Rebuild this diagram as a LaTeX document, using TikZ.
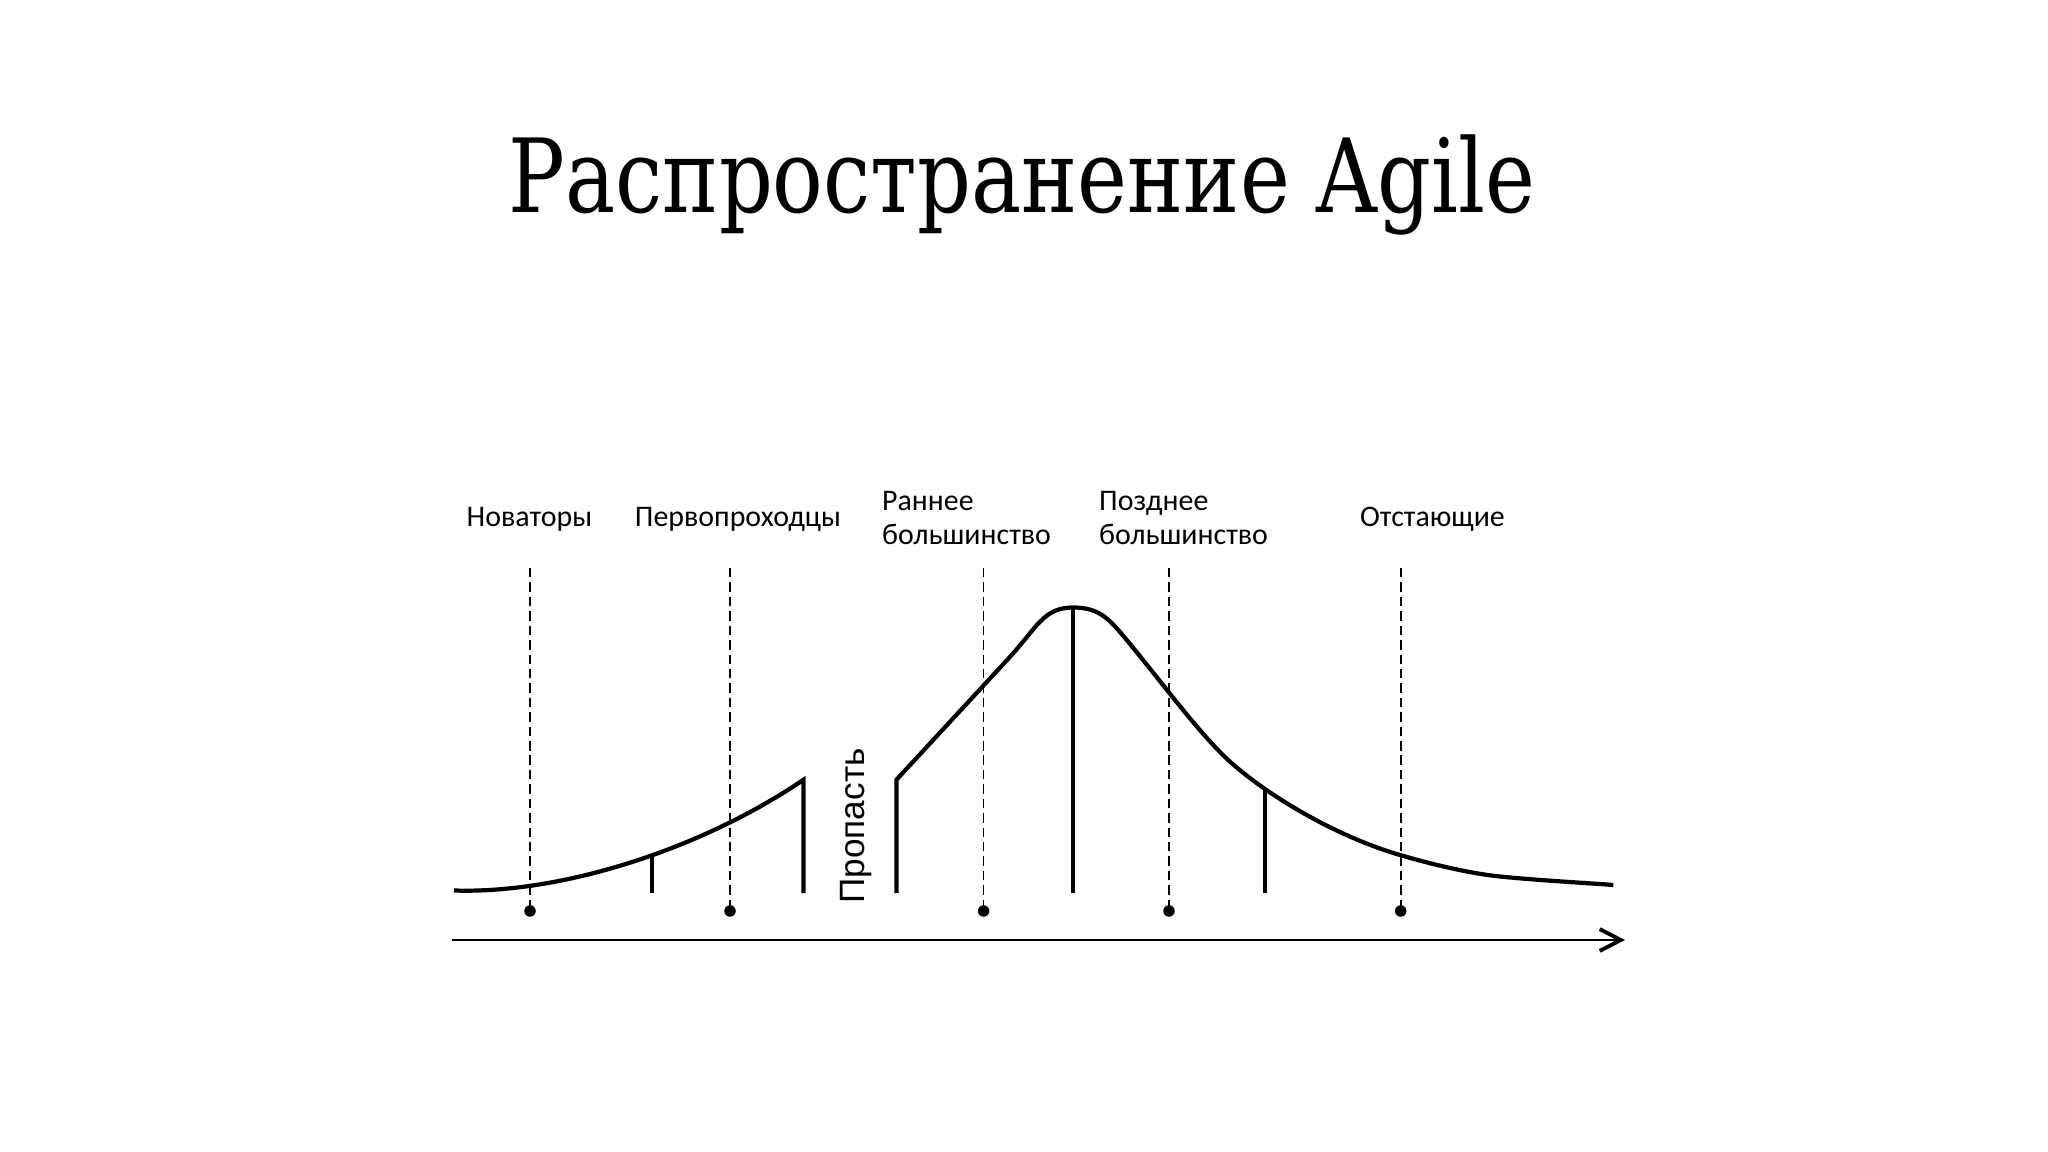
\documentclass[tikz,border=0pt]{standalone}
\usepackage{fontspec}
\usepackage{graphicx}
\setmainfont{Carlito}
\newfontfamily\titlefont{DejaVu Serif}
\newfontfamily\gapfont{Liberation Sans}
\usetikzlibrary{arrows.meta}
\begin{document}
\begin{tikzpicture}[x=0.01cm,y=-0.01cm,
  curveline/.style={line width=1.2pt, line join=miter, line cap=butt},
  tickline/.style={line width=1.05pt},
  guide/.style={line width=0.45pt, dash pattern=on 2.7pt off 1.4pt},
  dotnode/.style={circle, fill=black, inner sep=0pt, minimum size=0.115cm},
  lbl/.style={font=\fontsize{8.5}{9.7}\selectfont, inner sep=0pt},
  axisline/.style={line width=0.65pt, -{Straight Barb[length=6pt,width=6.2pt,line width=1.1pt]}}
]
\useasboundingbox (0,0) rectangle (2048,1152);
\fill[white] (0,0) rectangle (2048,1152);

% title
\node (title) [anchor=base, inner sep=0pt] at (1022,213)
  {\resizebox{10.26cm}{0.777cm}{\titlefont Распространение Agile}};

% labels
\node (l1) [lbl, anchor=base] at (529.5,527) {Новаторы};
\node (l2) [lbl, anchor=base] at (738,527) {Первопроходцы};
\node (l3) [lbl, anchor=north west, align=left] at (881.5,491) {Раннее\\большинство};
\node (l4) [lbl, anchor=north west, align=left] at (1098.5,491) {Позднее\\большинство};
\node (l5) [lbl, anchor=base] at (1432.5,527) {Отстающие};

% dashed guides and dots
\foreach \n/\x in {1/530, 2/730, 3/983.6, 4/1169, 5/1400.7} {
  \coordinate (t\n) at (\x,568);
  \node (d\n) [dotnode] at (\x,911) {};
  \draw[guide] (t\n) -- (d\n.center);
}

% left curve (early market)
\draw[curveline] (454,890.5) .. controls (560,894) and (700,850) .. (803.4,779.8)
  coordinate[pos=0.56] (k1) -- (803.4,893);
\draw[tickline] (k1) -- (k1 |- 0,893);

% right curve (mainstream market)
\draw[curveline] (896.4,893) -- (896.4,779.8) -- (1008,659)
  .. controls (1038,626.6) and (1043.3,607.5) .. (1073.3,607.5) coordinate (k2)
  .. controls (1100,607.5) and (1110,620) .. (1126.7,640)
  .. controls (1160,680) and (1195,728) .. (1225,757)
  .. controls (1255,786) and (1325,833) .. (1400,855) coordinate[pos=0.32] (k3)
  .. controls (1440,866.7) and (1475,874) .. (1500,876.5)
  .. controls (1540,880.5) and (1580,882.5) .. (1613.3,885);
\draw[tickline] (k2) -- (k2 |- 0,893);
\draw[tickline] (k3) -- (k3 |- 0,893);

% chasm label
\node (gap) [rotate=90, anchor=base, inner sep=0pt, font=\gapfont\fontsize{10}{12}\selectfont]
  at (864.8,826) {Пропасть};

% axis
\coordinate (axL) at (451.5,940);
\coordinate (axR) at (1625,940);
\draw[axisline] (axL) -- (axR);
\end{tikzpicture}
\end{document}
